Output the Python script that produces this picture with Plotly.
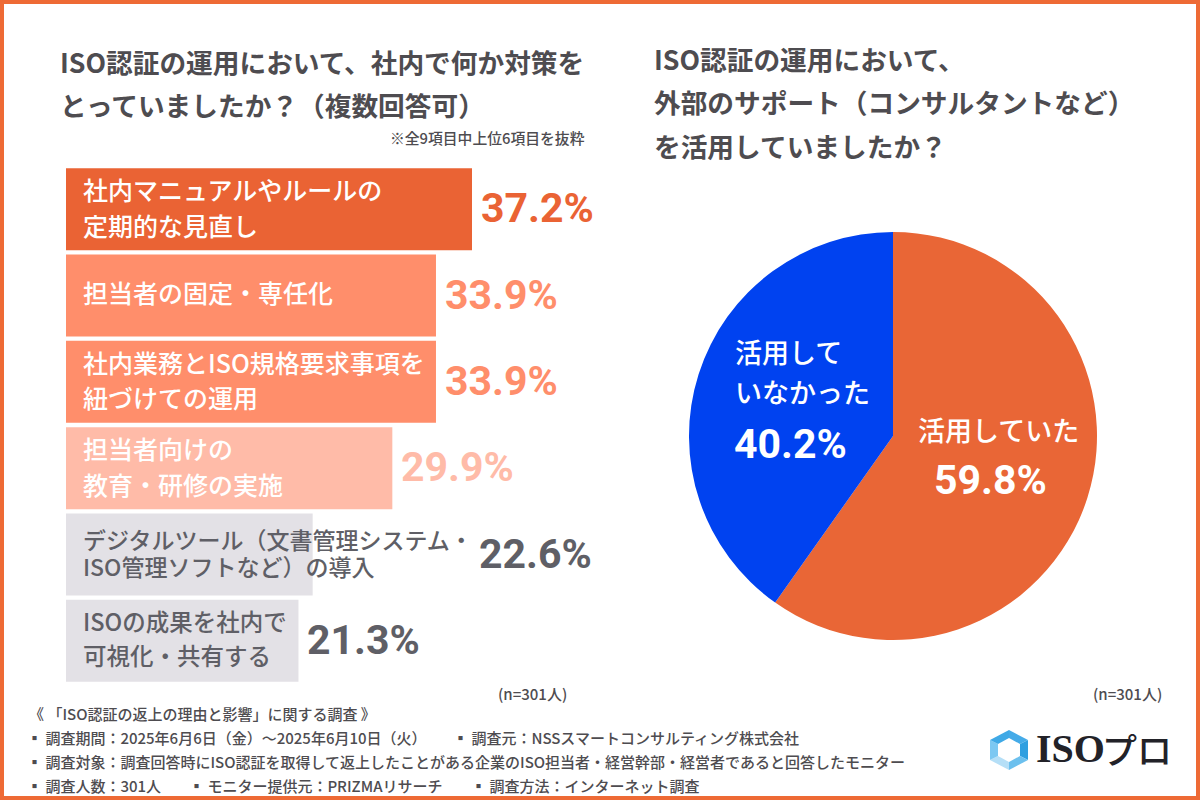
""" Recreates the ISO certification survey chart: bar chart on the left, pie on the right """
import plotly.graph_objects as go

# left chart
bar_labels = [
    "社内マニュアルやルールの<br>定期的な見直し",
    "担当者の固定・専任化",
    "社内業務とISO規格要求事項を<br>紐づけての運用",
    "担当者向けの<br>教育・研修の実施",
    "デジタルツール（文書管理システム・<br>ISO管理ソフトなど）の導入",
    "ISOの成果を社内で<br>可視化・共有する",
]
bar_values = [37.2, 33.9, 33.9, 29.9, 22.6, 21.3]

# right chart
pie_labels = ["活用していた", "活用して<br>いなかった"]
pie_values = [59.8, 40.2]

# styles of the rows
bar_colors = ["#EA6334", "#FF8E6B", "#FF8E6B", "#FFBBA8", "#E3E1E6", "#E3E1E6"]
value_colors = ["#EA6334", "#FF8E6B", "#FF8E6B", "#FFBBA8", "#5F5F66", "#5F5F66"]
label_colors = ["white", "white", "white", "white", "#5F5F66", "#5F5F66"]
label_sizes = [25, 25, 25, 25, 23, 23.5]
line_gaps = [36, 36, 35, 36, 27, 34]
label_lifts = [2, 4, 2, 2, 2, 3]
pie_colors = ["#E96636", "#0042F0"]

FONT = "Noto Sans CJK JP"
NUM_FONT = "Roboto"
TITLE_COLOR = "#4E4C50"
W, H = 1200, 800


def px_x(x):
    return x / W


def px_y(y):
    return 1 - y / H


def add_text(fig, x, y, text, size, color="#4A4A52", anchor="left", weight=400, family=FONT):
    """ Places a text at pixel position, y is the vertical middle """
    fig.add_annotation(
        x=px_x(x), y=px_y(y), xref="paper", yref="paper", text=text, showarrow=False,
        xanchor=anchor, yanchor="middle", align=anchor,
        font=dict(family=family, size=size, color=color, weight=weight),
    )


fig = go.Figure()

fig.add_trace(go.Bar(
    y=list(range(len(bar_values))), x=bar_values, orientation="h", width=0.95,
    marker=dict(color=bar_colors, line_width=0), hoverinfo="skip", showlegend=False,
))

fig.add_trace(go.Pie(
    labels=pie_labels, values=pie_values, sort=False, direction="clockwise", rotation=0,
    marker=dict(colors=pie_colors, line_width=0), textinfo="none", hoverinfo="skip",
    showlegend=False, domain=dict(x=[px_x(689), px_x(1097)], y=[px_y(640), px_y(232)]),
))

# bar captions and values
for i, (label, val) in enumerate(zip(bar_labels, bar_values)):
    lines = label.split("<br>")
    for j, line in enumerate(lines):
        # captions get their own line gap, plotly's <br> spacing is too tight here
        offset = (j - (len(lines) - 1) / 2) * line_gaps[i]
        fig.add_annotation(
            x=0, y=i, xref="x", yref="y", text=line, showarrow=False, xanchor="left", align="left",
            xshift=15, yshift=-offset + label_lifts[i],
            font=dict(family=FONT, size=label_sizes[i], color=label_colors[i], weight=500),
        )
    # the 22.6% sits past its long caption
    fig.add_annotation(
        x=val, y=i, xref="x", yref="y", text=f"{val}%", showarrow=False, xanchor="left",
        xshift=164 if i == 4 else 7, yshift=1,
        font=dict(family=NUM_FONT, size=41, color=value_colors[i], weight=700),
    )

# titles
add_text(fig, 58, 61, "ISO認証の運用において、社内で何か対策を", 26.7, TITLE_COLOR, weight=700)
add_text(fig, 58, 104, "とっていましたか？（複数回答可）", 26.7, TITLE_COLOR, weight=700)
add_text(fig, 587, 137, "※全9項目中上位6項目を抜粋", 14.8, TITLE_COLOR, anchor="right", weight=500)
add_text(fig, 652, 59, "ISO認証の運用において、", 26.7, TITLE_COLOR, weight=700)
add_text(fig, 652, 102, "外部のサポート（コンサルタントなど）", 26.7, TITLE_COLOR, weight=700)
add_text(fig, 652, 145, "を活用していましたか？", 26.7, TITLE_COLOR, weight=700)

# pie captions
add_text(fig, 998, 429, "活用していた", 27, color="white", anchor="center", weight=500)
add_text(fig, 990, 480, f"{pie_values[0]}%", 41, color="white", anchor="center", weight=700, family=NUM_FONT)
add_text(fig, 733, 351, "活用して", 27, color="white", weight=500)
add_text(fig, 733, 391, "いなかった", 27, color="white", weight=500)
add_text(fig, 790, 444, f"{pie_values[1]}%", 41, color="white", anchor="center", weight=700, family=NUM_FONT)

# n labels
add_text(fig, 569, 693, "(n=301人)", 15, TITLE_COLOR, anchor="right", weight=500)
add_text(fig, 1164, 693, "(n=301人)", 15, TITLE_COLOR, anchor="right", weight=500)

# footer
add_text(fig, 27, 713, "《 「ISO認証の返上の理由と影響」に関する調査 》", 15, TITLE_COLOR, weight=500)
add_text(fig, 25, 737, "▪ 調査期間：2025年6月6日（金）～2025年6月10日（火）", 15, TITLE_COLOR, weight=500)
add_text(fig, 451, 737, "▪ 調査元：NSSスマートコンサルティング株式会社", 15, TITLE_COLOR, weight=500)
add_text(fig, 25, 761, "▪ 調査対象：調査回答時にISO認証を取得して返上したことがある企業のISO担当者・経営幹部・経営者であると回答したモニター", 15, TITLE_COLOR, weight=500)
add_text(fig, 25, 785, "▪ 調査人数：301人", 15, TITLE_COLOR, weight=500)
add_text(fig, 187, 785, "▪ モニター提供元：PRIZMAリサーチ", 15, TITLE_COLOR, weight=500)
add_text(fig, 469, 785, "▪ 調査方法：インターネット調査", 15, TITLE_COLOR, weight=500)

# logo
add_text(fig, 1034, 748, "ISO", 40, color="#222228", weight=700, family="Liberation Serif")
add_text(fig, 1100, 748, "プロ", 35, color="#222228", weight=500)

# hexagon of the logo, one trapezoid per side so the blue can fade towards the bottom
hex_outer = [(1009, 730), (1028, 740), (1028, 760), (1009, 770), (990, 760), (990, 740)]
hex_inner = [(1009, 738), (1020, 744), (1020, 756), (1009, 762), (998, 756), (998, 744)]
hex_colors = ["#45ABE8", "#2F9FE0", "#6CC0EE", "#B5DFF7", "#7CC8F2", "#3FA9E6"]

frame_color = "#EE6A35"
shapes = [
    dict(type="rect", xref="paper", yref="paper", x0=0, x1=px_x(4), y0=0, y1=1, fillcolor=frame_color, line_width=0),
    dict(type="rect", xref="paper", yref="paper", x0=px_x(1196), x1=1, y0=0, y1=1, fillcolor=frame_color, line_width=0),
    dict(type="rect", xref="paper", yref="paper", x0=0, x1=1, y0=px_y(4), y1=1, fillcolor=frame_color, line_width=0),
    dict(type="rect", xref="paper", yref="paper", x0=0, x1=1, y0=0, y1=px_y(796), fillcolor=frame_color, line_width=0),
]
for k in range(6):
    pts = [hex_outer[k], hex_outer[(k + 1) % 6], hex_inner[(k + 1) % 6], hex_inner[k]]
    path = "M " + " L ".join(f"{px_x(x)} {px_y(y)}" for x, y in pts) + " Z"
    shapes.append(dict(type="path", xref="paper", yref="paper", path=path,
                       fillcolor=hex_colors[k], line_width=0))

fig.update_layout(
    width=W, height=H, margin=dict(l=0, r=0, t=0, b=0),
    paper_bgcolor="white", plot_bgcolor="rgba(0,0,0,0)",
    font=dict(family=FONT),
    shapes=shapes,
    # 37.2 spans 66..472 px, so the whole axis 0..50 spans 545.7 px
    xaxis=dict(domain=[px_x(66), px_x(66 + 545.7)], range=[0, 50], visible=False, fixedrange=True),
    yaxis=dict(domain=[px_y(684), px_y(166)], range=[5.5, -0.5], visible=False, fixedrange=True),
)

fig.write_html("out.html", config={"displayModeBar": False}, post_script="document.body.style.margin='0';")
